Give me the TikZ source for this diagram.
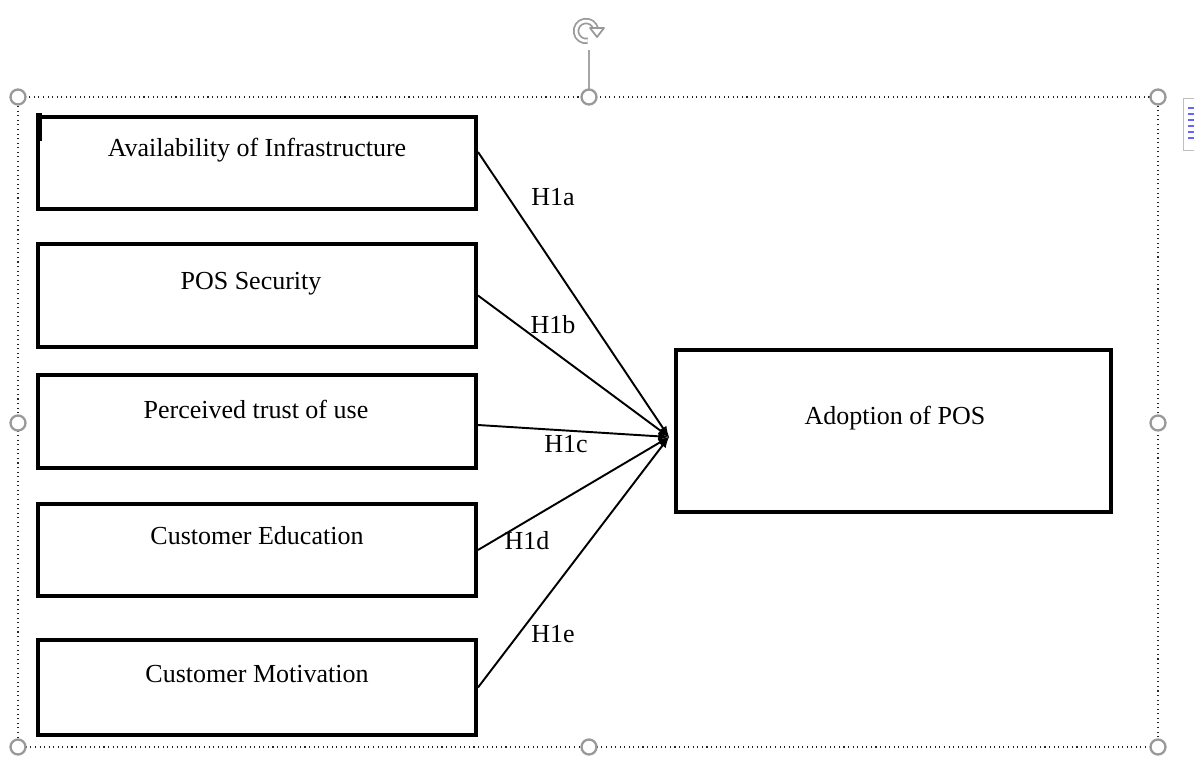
\documentclass[tikz,border=0pt]{standalone}
\usepackage{fontspec}
\setmainfont{Liberation Serif}
\usepackage{tikz}
\usetikzlibrary{arrows}

\tikzset{
  factor/.style={draw, line width=2.3pt, minimum width=8.76cm, inner sep=0pt},
  btext/.style={font=\fontsize{14.8}{17}\selectfont, inner sep=1pt},
  hyp/.style={font=\fontsize{14.8}{17}\selectfont, inner sep=1pt},
  link/.style={-latex, line width=1.1pt},
  grip/.style={draw=black!40, line width=1.3pt, fill=white}
}

\begin{document}
\begin{tikzpicture}[x=0.02cm, y=-0.02cm]
\useasboundingbox (0,0) rectangle (1194,757);

% selection frame
\draw [dotted, line width=0.6pt, black!85] (18,97) rectangle (1158,747);
\draw [black!35, line width=1pt] (589,89) -- (589,50);

% factors
\node [factor, minimum height=1.84cm] (infra) at (257,163) {};
\node [factor, minimum height=2.06cm] (secure) at (257,295.5) {};
\node [factor, minimum height=1.86cm] (trust) at (257,421.5) {};
\node [factor, minimum height=1.84cm] (educ) at (257,550) {};
\node [factor, minimum height=1.90cm] (motiv) at (257,687.5) {};
\node [factor, minimum width=8.7cm, minimum height=3.24cm] (adopt) at (893.5,431) {};

\node [btext] (infraT) at (257,150) {Availability of Infrastructure};
\node [btext] (secureT) at (251,284) {POS Security};
\node [btext] (trustT) at (256,409) {Perceived trust of use};
\node [btext] (educT) at (257,536) {Customer Education};
\node [btext] (motivT) at (257,674) {Customer Motivation};
\node [btext] (adoptT) at (895,418) {Adoption of POS};

\draw [line width=3.5pt] (39,113) -- (39,141);

% hypotheses
\coordinate (hub) at (669,437);
\draw [link] (478,152) -- (hub);
\draw [link] (secure.east) -- (hub);
\draw [link] (478,425) -- (hub);
\draw [link] (educ.east) -- (hub);
\draw [link] (motiv.east) -- (hub);

\node [hyp] (ha) at (553,197) {H1a};
\node [hyp] (hb) at (553,325) {H1b};
\node [hyp] (hc) at (566,444) {H1c};
\node [hyp] (hd) at (527,541) {H1d};
\node [hyp] (he) at (553,634) {H1e};

% handles
\foreach \x/\y in {18/97, 589/97, 1158/97, 18/423, 1158/423, 18/747, 589/747, 1158/747}
  \draw [grip] (\x,\y) circle [radius=7.5];

% rotate icon
\begin{scope}[shift={(586,31)}, y=0.02cm]
\draw [black!40, double=white, double distance=1.6pt, line width=1pt]
  (-80:10) arc [start angle=-80, end angle=-345, radius=10];
\draw [black!40, fill=white, line width=1pt, line join=round]
  (4,3) -- (18,3) -- (11,-6) -- cycle;
\end{scope}

% layout icon
\draw [black!25, fill=white] (1183,98) rectangle (1200,150);
\foreach \y in {108,114,120,126,132,138}
  \draw [blue!60, line width=0.8pt] (1188,\y) -- (1196,\y);
\end{tikzpicture}
\end{document}
